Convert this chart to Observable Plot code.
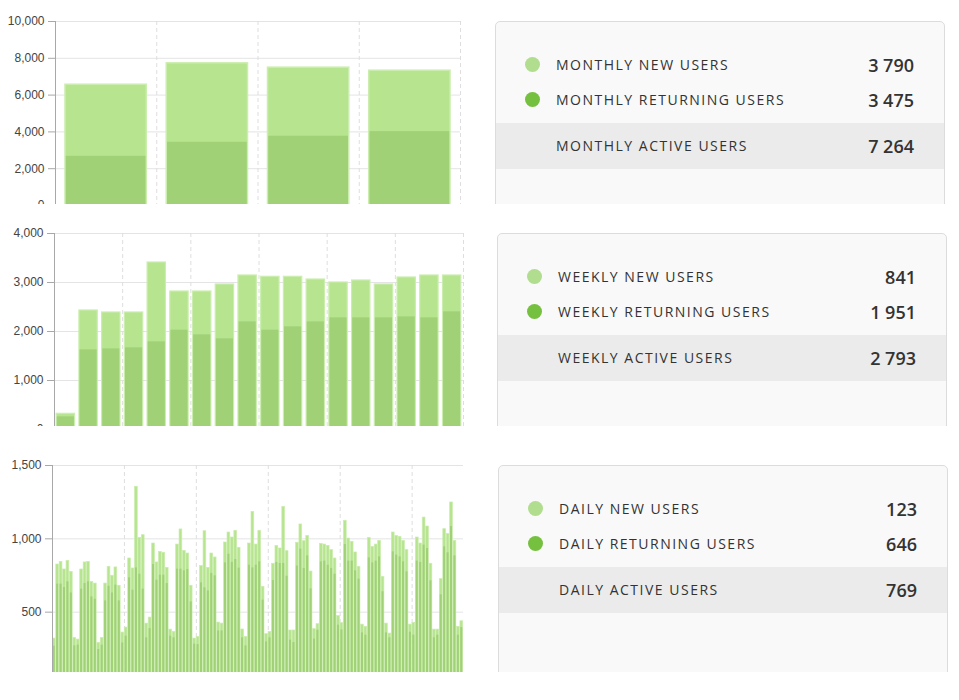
<!DOCTYPE html>
<html><head><meta charset="utf-8">
<script src="https://cdn.jsdelivr.net/npm/d3@7"></script>
<script src="https://cdn.jsdelivr.net/npm/@observablehq/plot@0.6"></script>
<style>
body{margin:0;background:#fff;width:959px;height:700px;position:relative;overflow:hidden;font-family:"Open Sans",sans-serif;}
.row{position:absolute;left:0;width:959px;overflow:hidden;}
.chart{position:absolute;left:0;top:0;}
.panel{position:absolute;top:21px;background:#f9f9f9;border:1px solid #dcdcdc;border-radius:5px;width:450px;height:300px;box-sizing:border-box;}
.item{position:absolute;left:0;right:0;height:46px;}
.dot{position:absolute;left:29px;top:15.5px;width:15px;height:15px;border-radius:50%;}
.label{position:absolute;left:60px;top:0;line-height:46px;font-size:14px;letter-spacing:1.5px;color:#333;white-space:nowrap;}
.value{position:absolute;right:30px;top:0;line-height:46px;font-size:18px;font-weight:600;color:#333;}
.hl{background:#ebebeb;}
</style></head>
<body>
<div class="row" id="r0" style="top:0;height:204px"></div>
<div class="row" id="r1" style="top:212px;height:214px"></div>
<div class="row" id="r2" style="top:444px;height:228px"></div>
<script>
// ---- data ----
const monthlyActive    = [6564, 7727, 7491, 7327];
const monthlyReturning = [2673, 3436, 3764, 4018];
const monthlyTicks = [0, 2000, 4000, 6000, 8000, 10000];
const monthlyGrid = [1, 2, 3, 4];

const weeklyActive    = [320,2429,2388,2388,3408,2816,2816,2959,3143,3116,3116,3061,3000,3041,2959,3102,3143,3143];
const weeklyReturning = [258,1626,1646,1667,1789,2027,1932,1850,2197,2027,2095,2197,2279,2279,2279,2299,2279,2401];
const weeklyTicks = [0, 1000, 2000, 3000, 4000];
const weeklyGrid = [3, 6, 9, 12, 15, 18];

const dailyActive = [
 320,825,843,791,850,775,324,313,791,839,843,707,695,290,324,695,809,748,805,680,361,
 395,866,798,1355,1007,1025,422,463,968,839,911,905,802,381,365,961,1064,918,900,680,320,
 331,814,1052,802,900,873,429,422,975,1043,1009,1055,939,382,331,968,1184,961,1055,673,350,
 365,830,952,934,1218,916,375,375,973,1098,984,1020,777,384,418,966,961,952,923,866,473,
 425,1123,1002,980,907,809,415,400,1007,945,961,986,741,422,354,1043,1020,1013,986,923,415,
 427,1009,968,1145,1084,830,381,381,725,1066,1032,1248,986,400,438];
const dailyReturning = [
 268,691,691,668,707,631,270,275,657,695,707,604,588,245,275,577,677,631,684,577,290,
 336,734,650,802,759,657,325,388,825,718,752,752,695,336,325,793,793,782,791,570,282,
 279,700,666,645,764,748,372,372,836,895,839,859,800,325,270,820,802,820,843,582,297,
 325,716,839,832,832,745,309,293,814,930,798,884,659,316,377,843,848,820,798,759,411,
 379,961,848,848,782,725,359,343,870,836,848,877,639,359,325,911,889,877,843,775,363,
 343,848,839,957,934,714,325,343,618,945,905,1084,884,343,395];
const dailyTicks = [0, 500, 1000, 1500];
const dailyGrid = [21, 42, 63, 84, 105];

const panels = [
  {labels:["MONTHLY NEW USERS","MONTHLY RETURNING USERS","MONTHLY ACTIVE USERS"], values:["3 790","3 475","7 264"]},
  {labels:["WEEKLY NEW USERS","WEEKLY RETURNING USERS","WEEKLY ACTIVE USERS"], values:["841","1 951","2 793"]},
  {labels:["DAILY NEW USERS","DAILY RETURNING USERS","DAILY ACTIVE USERS"], values:["123","646","769"]}
];

const LIGHT = "#b6e48f", DARK = "#a0d177", BORDER = "#cbedae";
const DOT_LIGHT = "#b0dd8e", DOT_DARK = "#76c03f";

function chart({active, returning, ticks, grid, marginLeft, right, plotH, inset, strokeW}) {
  const n = active.length;
  const idx = d3.range(n);
  const height = 21 + plotH + 30;
  return Plot.plot({
    width: 470, height, marginTop: 21, marginBottom: 30, marginLeft, marginRight: 470 - right,
    style: {fontFamily: "'Liberation Sans', Arial, sans-serif", fontSize: "12px", color: "#444", background: "transparent"},
    x: {domain: [0, n], axis: null},
    y: {domain: [0, ticks[ticks.length - 1]], axis: null},
    marks: [
      Plot.ruleY(ticks, {stroke: "#e4e4e4"}),
      Plot.ruleX(grid, {stroke: "#dedede", strokeDasharray: "4,3"}),
      Plot.rectY(idx, {x1: i => i, x2: i => i + 1, y: i => active[i], fill: LIGHT, stroke: BORDER, strokeWidth: strokeW, insetLeft: inset, insetRight: inset}),
      Plot.rectY(idx, {x1: i => i, x2: i => i + 1, y: i => returning[i], fill: DARK, insetLeft: inset + strokeW/2, insetRight: inset + strokeW/2}),
      Plot.ruleX([0], {stroke: "#a8a8a8"}),
      Plot.axisY(ticks, {tickSize: 7, tickPadding: 4, stroke: "#a8a8a8", fill: "#444", fontSize: 12, tickFormat: d3.format(",")})
    ]
  });
}

const charts = [
  chart({active: monthlyActive, returning: monthlyReturning, ticks: monthlyTicks, grid: monthlyGrid, marginLeft: 55, right: 460, plotH: 184, inset: 10, strokeW: 1.5}),
  chart({active: weeklyActive, returning: weeklyReturning, ticks: weeklyTicks, grid: weeklyGrid, marginLeft: 54, right: 463, plotH: 196, inset: 2.2, strokeW: 1.2}),
  chart({active: dailyActive, returning: dailyReturning, ticks: dailyTicks, grid: dailyGrid, marginLeft: 52, right: 463, plotH: 220, inset: 0.35, strokeW: 0.7})
];
const panelLeft = [495, 497, 498];

charts.forEach((c, k) => {
  const row = document.getElementById("r" + k);
  c.classList.add("chart");
  row.appendChild(c);
  const p = document.createElement("div");
  p.className = "panel";
  p.style.left = panelLeft[k] + "px";
  const tops = [19.5, 54.5, 100.5];
  panels[k].labels.forEach((lab, j) => {
    const it = document.createElement("div");
    it.className = "item" + (j === 2 ? " hl" : "");
    it.style.top = tops[j] + "px";
    if (j < 2) {
      const d = document.createElement("div");
      d.className = "dot";
      d.style.background = j === 0 ? DOT_LIGHT : DOT_DARK;
      it.appendChild(d);
    }
    const l = document.createElement("div"); l.className = "label"; l.textContent = lab; it.appendChild(l);
    const v = document.createElement("div"); v.className = "value"; v.textContent = panels[k].values[j]; it.appendChild(v);
    p.appendChild(it);
  });
  row.appendChild(p);
});
</script>
</body></html>
